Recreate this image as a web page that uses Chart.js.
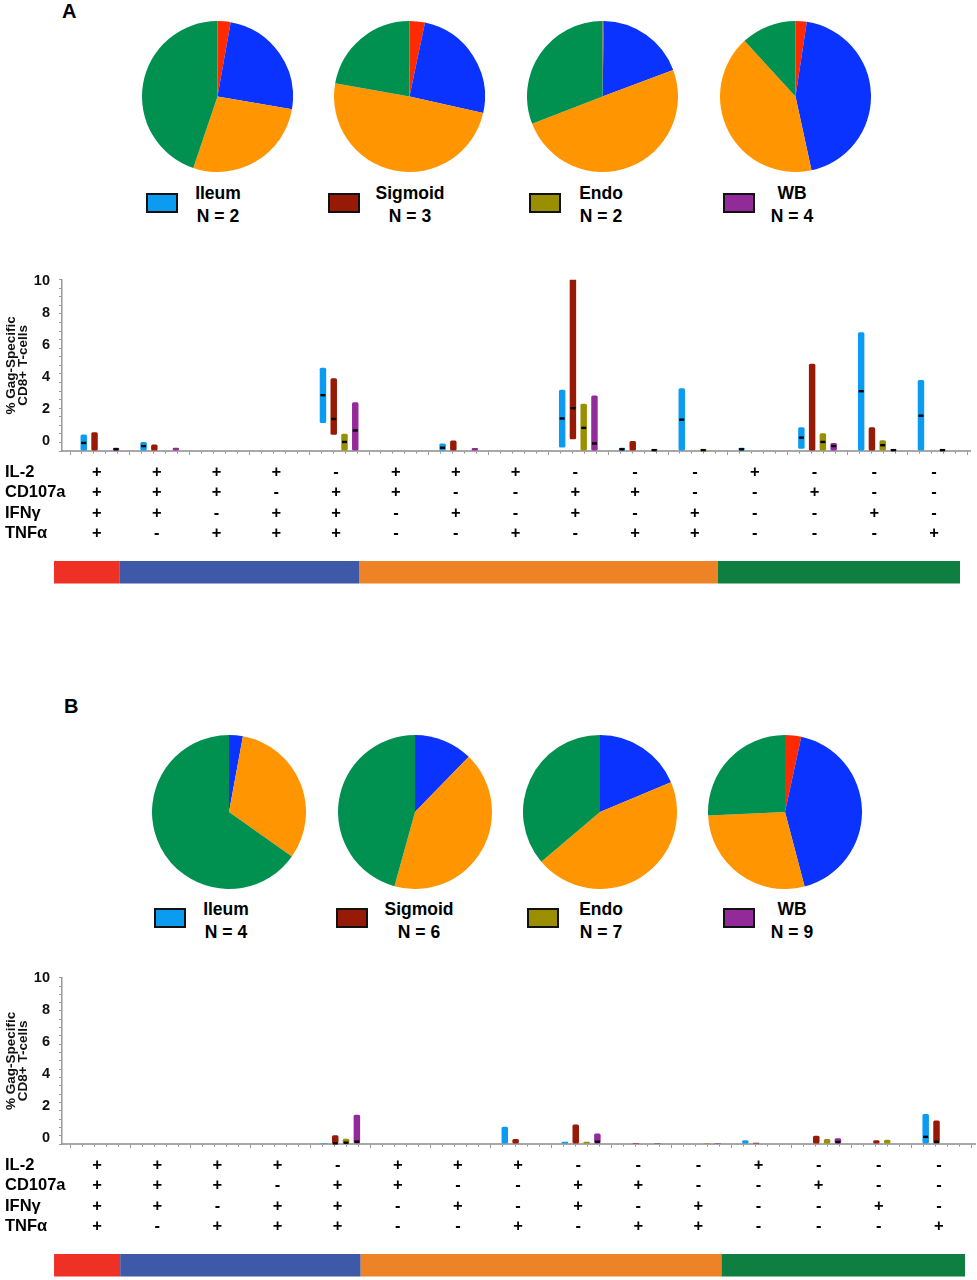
<!DOCTYPE html>
<html>
<head>
<meta charset="utf-8">
<title>Gag-specific CD8+ T-cell functions</title>
<script src="https://cdn.jsdelivr.net/npm/chart.js@4.4.1/dist/chart.umd.min.js"></script>
<style>
  body { margin: 0; background: #fff; font-family: "Liberation Sans", Arial, sans-serif; }
  #page { position: relative; width: 977px; height: 1280px; overflow: hidden; }
  canvas, .tag, .key, .keyText { position: absolute; }
  .tag { font-size: 20px; font-weight: bold; color: #000; }
  .key { width: 28px; height: 16px; border: 2.5px solid #111; }
  .keyText { width: 120px; text-align: center; font-size: 17.5px; font-weight: bold; line-height: 23px; color: #000; }
</style>
</head>
<body>
<div id="page">
  <div class="tag" style="left:62px;top:0px">A</div>
  <div class="tag" style="left:64px;top:695px">B</div>
</div>
<script>
// ---- shared ----
const tissues = ['Ileum', 'Sigmoid', 'Endo', 'WB'];
const tissueColors = ['#0b9cf2', '#961a06', '#9a8f00', '#932a9a'];
const groupLabels = ['4 functions', '3 functions', '2 functions', '1 function'];
const groupColors = ['#ff2a00', '#0a33ff', '#ff9500', '#009050'];
const bandColors = ['#ee3124', '#3d59a8', '#ee8227', '#0f7f41'];
const groupSizes = [1, 4, 6, 4];
const markers = ['IL-2', 'CD107a', 'IFNγ', 'TNFα'];
const il2    = ['+','+','+','+','-','+','+','+','-','-','-','+','-','-','-'];
const cd107a = ['+','+','+','-','+','+','-','-','+','+','-','-','+','-','-'];
const ifng   = ['+','+','-','+','+','-','+','-','+','-','+','-','-','+','-'];
const tnfa   = ['+','-','+','+','+','-','-','+','-','+','+','-','-','-','+'];
const signRows = [il2, cd107a, ifng, tnfa];
const yTickLabels = [0, 2, 4, 6, 8, 10];

// ---- panel A ----
const countsA = [2, 3, 2, 4];
const pieIleumA   = [2.8, 24.9, 27.5, 44.8];
const pieSigmoidA = [3.3, 25.2, 49.3, 22.2];
const pieEndoA    = [0.3, 19.0, 49.8, 30.9];
const pieWbA      = [2.4, 44.2, 41.6, 11.8];

const ileumHiA  = [0.97, 0.53, null, null, 4.86, null, 0.44, null, 3.58, 0.19, 3.66, 0.19, 1.39, 6.93, 4.15];
const ileumLoA  = [0, 0, null, null, 1.64, null, 0, null, 0.21, 0, 0, 0, 0.13, 0, 0];
const ileumMedA = [0.47, 0.29, null, null, 3.26, null, 0.19, null, 1.9, 0.1, 1.83, 0.1, 0.78, 3.49, 2.06];
const sigmoidHiA  = [1.1, 0.38, null, null, 4.25, null, 0.61, null, 10.06, 0.59, null, null, 5.1, 1.39, null];
const sigmoidLoA  = [0, 0, null, null, 0.95, null, 0, null, 0.69, 0, null, null, 0, 0, null];
const sigmoidMedA = [null, null, null, null, 1.87, null, null, null, 2.5, null, null, null, null, null, null];
const endoHiA  = [null, null, null, null, 1.01, null, null, null, 2.76, null, 0.1, null, 1.03, 0.63, 0.1];
const endoLoA  = [null, null, null, null, 0, null, null, null, 0, null, 0, null, 0, 0, 0];
const endoMedA = [null, null, null, null, 0.53, null, null, null, 1.35, null, 0.05, null, 0.53, 0.34, 0.05];
const wbHiA  = [0.19, 0.19, null, null, 2.84, null, 0.18, null, 3.24, 0.1, null, null, 0.46, 0.1, null];
const wbLoA  = [0, 0, null, null, 0, null, 0, null, 0, 0, null, null, 0, 0, null];
const wbMedA = [0.1, null, null, null, 1.2, null, null, null, 0.44, 0.05, null, null, 0.29, 0.05, null];

// ---- panel B ----
const countsB = [4, 6, 7, 9];
const pieIleumB   = [0, 2.9, 31.9, 65.2];
const pieSigmoidB = [0, 12.3, 42.0, 45.7];
const pieEndoB    = [0, 18.7, 45.1, 36.2];
const pieWbB      = [3.4, 42.5, 28.4, 25.7];

const ileumHiB  = [null, null, null, null, 0.06, null, null, 1.03, 0.14, null, null, 0.22, null, null, 1.81];
const ileumLoB  = [null, null, null, null, 0, null, null, 0, 0, null, null, 0, null, null, 0];
const ileumMedB = [null, null, null, null, null, null, null, null, null, null, null, null, null, null, 0.43];
const sigmoidHiB  = [null, null, null, null, 0.53, null, null, 0.3, 1.18, 0.06, null, 0.08, 0.49, 0.22, 1.42];
const sigmoidLoB  = [null, null, null, null, 0, null, null, 0, 0, 0, null, 0, 0, 0, 0];
const sigmoidMedB = [null, null, null, null, 0.04, null, null, null, null, null, null, null, null, null, 0.14];
const endoHiB  = [null, null, null, null, 0.32, null, null, null, 0.14, null, 0.06, null, 0.3, 0.26, null];
const endoLoB  = [null, null, null, null, 0, null, null, null, 0, null, 0, null, 0, 0, null];
const endoMedB = [null, null, null, null, 0.08, null, null, null, null, null, null, null, null, null, null];
const wbHiB  = [null, null, null, null, 1.76, null, null, null, 0.63, 0.06, 0.06, null, 0.34, null, null];
const wbLoB  = [null, null, null, null, 0, null, null, null, 0, 0, 0, null, 0, null, null];
const wbMedB = [null, null, null, null, 0.14, null, null, null, 0.14, null, null, null, 0.12, null, null];

const page = document.getElementById('page');

function addCanvas(left, top, w, h) {
  const c = document.createElement('canvas');
  c.width = w; c.height = h;
  c.style.left = left + 'px'; c.style.top = top + 'px';
  page.appendChild(c);
  return c;
}

function addDiv(cls, left, top, html, bg) {
  const d = document.createElement('div');
  d.className = cls;
  d.style.left = left + 'px'; d.style.top = top + 'px';
  if (bg) d.style.background = bg;
  if (html) d.innerHTML = html;
  page.appendChild(d);
}

function makePie(cx, cy, r, shares) {
  const size = Math.round(r * 2);
  new Chart(addCanvas(cx - r, cy - r, size, size), {
    type: 'pie',
    data: { labels: groupLabels, datasets: [{ data: shares, backgroundColor: groupColors, borderWidth: 0 }] },
    options: {
      responsive: false, animation: false, devicePixelRatio: 1,
      layout: { padding: 0 },
      plugins: { legend: { display: false }, tooltip: { enabled: false } }
    }
  });
}

const medianMarks = {
  id: 'medianMarks',
  afterDatasetsDraw(chart) {
    const ctx = chart.ctx, y = chart.scales.y;
    ctx.save();
    ctx.fillStyle = '#000';
    chart.data.datasets.forEach((ds, k) => {
      chart.getDatasetMeta(k).data.forEach((bar, j) => {
        const m = ds.data[j].med;
        if (m == null) return;
        ctx.fillRect(bar.x - 2.5, y.getPixelForValue(m) - 1.2, 5, 2.4);
      });
    });
    ctx.restore();
  }
};

const signTable = {
  id: 'signTable',
  afterDraw(chart) {
    const ctx = chart.ctx, x = chart.scales.x, base = chart.chartArea.bottom;
    ctx.save();
    ctx.font = 'bold 16.5px "Liberation Sans", Arial, sans-serif';
    ctx.fillStyle = '#000';
    ctx.textBaseline = 'middle';
    signRows.forEach((row, r) => {
      const ty = base + 21 + r * 20.5;
      ctx.textAlign = 'left';
      ctx.fillText(markers[r], 5, ty);
      ctx.textAlign = 'center';
      row.forEach((s, i) => ctx.fillText(s, x.getPixelForValue(i) - 3, ty));
    });
    let edge = -0.5;
    groupSizes.forEach((n, g) => {
      const from = x.getPixelForValue(edge) + (g === 0 ? -16 : -10);
      edge += n;
      const to = x.getPixelForValue(edge) + (g === groupSizes.length - 1 ? -7 : -10);
      ctx.fillStyle = bandColors[g];
      ctx.fillRect(from, base + 110, to - from, 22.5);
    });
    ctx.restore();
  }
};

function makeBars(top, height, sets, p) {
  const datasets = sets.map((s, k) => ({
    label: tissues[k],
    data: s.hi.map((h, i) => h == null ? null : { x: i, y: [s.lo[i], h], med: s.med[i] }).filter(d => d),
    backgroundColor: tissueColors[k],
    borderWidth: 0,
    borderRadius: 1.5,
    borderSkipped: false,
    categoryPercentage: 0.72,
    barPercentage: 0.6
  }));
  const xMin = -0.634, xMax = 14.55;
  new Chart(addCanvas(0, top, 977, height), {
    type: 'bar',
    data: { datasets },
    options: {
      responsive: false, animation: false, devicePixelRatio: 1,
      layout: { padding: { top: p.padTop, bottom: p.padBottom, right: p.padRight, left: 0 } },
      plugins: { legend: { display: false }, tooltip: { enabled: false } },
      scales: {
        x: {
          type: 'linear', axis: 'x', position: 'bottom', min: xMin, max: xMax, weight: 1, offset: false,
          afterBuildTicks: ax => { ax.ticks = il2.concat(['']).map((_, i) => ({ value: i - 0.5 })); },
          ticks: { display: false },
          grid: { drawOnChartArea: false, offset: false, tickLength: 4, color: '#9a9a9a' },
          border: { color: '#a8a8a8', width: 2 },
          afterFit: ax => { ax.height = 4; }
        },
        xMinor: {
          type: 'linear', axis: 'x', position: 'bottom', min: xMin, max: xMax, weight: 0, offset: false,
          afterBuildTicks: ax => {
            const t = [];
            il2.forEach((_, i) => { for (let k = 1; k < 5; k++) t.push({ value: i - 0.5 + k * 0.2 }); });
            ax.ticks = t;
          },
          ticks: { display: false },
          grid: { drawOnChartArea: false, offset: false, tickLength: 2.5, color: '#888' },
          border: { display: false },
          afterFit: ax => { ax.height = 0; }
        },
        y: {
          type: 'linear', position: 'left', min: 0, max: 10, weight: 0,
          afterBuildTicks: ax => { const t = []; for (let v = 0; v <= 10; v += 0.5) t.push({ value: v }); ax.ticks = t; },
          ticks: { display: false },
          grid: { drawOnChartArea: false, tickLength: 3, color: '#9a9a9a' },
          border: { color: '#9a9a9a', width: 1.5 },
          afterFit: ax => { ax.width = 3; }
        },
        yLabels: {
          type: 'linear', axis: 'y', position: 'left', min: p.labelMin, max: p.labelMax, weight: 1,
          afterBuildTicks: ax => { ax.ticks = yTickLabels.map(v => ({ value: v })); },
          ticks: { font: { size: 14.5, weight: 'bold', family: '"Liberation Sans", Arial' }, color: '#111', padding: 9, callback: v => String(v) },
          grid: { display: false, drawTicks: false },
          border: { display: false },
          title: {
            display: true, text: ['% Gag-Specific', 'CD8+ T-cells'], color: '#111',
            font: { size: 13.5, weight: 'bold', family: '"Liberation Sans", Arial', lineHeight: 0.88 },
            padding: { top: 5, bottom: 0 }
          },
          afterFit: ax => { ax.width = 59; }
        }
      }
    },
    plugins: [medianMarks, signTable]
  });
}

function makePanel(pies, counts, setList, geo) {
  pies.forEach((shares, k) => makePie(geo.pieX[k], geo.pieY, geo.r, shares));
  tissues.forEach((name, k) => {
    addDiv('key', geo.keyX[k], geo.keyY, '', tissueColors[k]);
    addDiv('keyText', geo.textX[k] - 60, geo.textY - 11.5, name + '<br>N = ' + counts[k]);
  });
  makeBars(geo.barTop, geo.barHeight, setList, geo);
}

makePanel(
  [pieIleumA, pieSigmoidA, pieEndoA, pieWbA], countsA,
  [
    { hi: ileumHiA, lo: ileumLoA, med: ileumMedA },
    { hi: sigmoidHiA, lo: sigmoidLoA, med: sigmoidMedA },
    { hi: endoHiA, lo: endoLoA, med: endoMedA },
    { hi: wbHiA, lo: wbLoA, med: wbMedA }
  ],
  { pieX: [217, 409, 602, 795], pieY: 96, r: 75.5,
    keyX: [146, 328, 529, 723], keyY: 193, textX: [218, 410, 601, 792], textY: 193,
    barTop: 262, barHeight: 330, padTop: 14, padBottom: 137, padRight: 7, labelMin: -0.61, labelMax: 10.06 }
);

makePanel(
  [pieIleumB, pieSigmoidB, pieEndoB, pieWbB], countsB,
  [
    { hi: ileumHiB, lo: ileumLoB, med: ileumMedB },
    { hi: sigmoidHiB, lo: sigmoidLoB, med: sigmoidMedB },
    { hi: endoHiB, lo: endoLoB, med: endoMedB },
    { hi: wbHiB, lo: wbLoB, med: wbMedB }
  ],
  { pieX: [229, 415, 600, 785], pieY: 811.5, r: 77,
    keyX: [154, 336, 527, 723], keyY: 908, textX: [226, 419, 601, 792], textY: 909,
    barTop: 960, barHeight: 320, padTop: 15, padBottom: 132, padRight: 2, labelMin: -0.37, labelMax: 10 }
);
</script>
</body>
</html>
